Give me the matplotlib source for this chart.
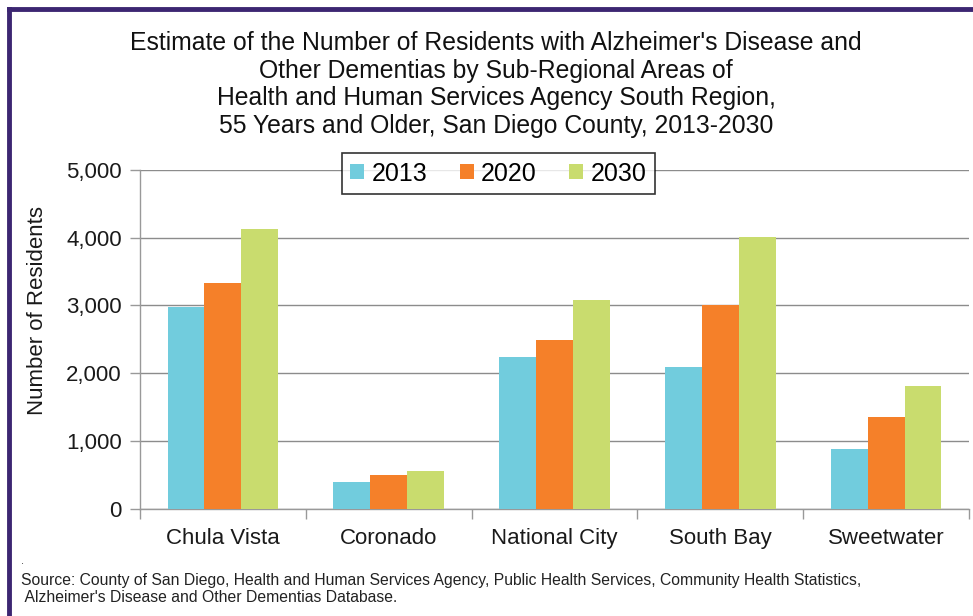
import matplotlib
matplotlib.use("Agg")
import matplotlib.pyplot as plt
from matplotlib.lines import Line2D
import numpy as np

categories = ["Chula Vista", "Coronado", "National City", "South Bay", "Sweetwater"]
years = ["2013", "2020", "2030"]
v2013 = [2970, 400, 2240, 2090, 880]
v2020 = [3330, 500, 2485, 3010, 1360]
v2030 = [4125, 550, 3075, 4005, 1805]
yticks = [0, 1000, 2000, 3000, 4000, 5000]
ytick_labels = ["0", "1,000", "2,000", "3,000", "4,000", "5,000"]
colors = ["#71CCDD", "#F58029", "#C9DC6E"]

title = ("Estimate of the Number of Residents with Alzheimer's Disease and\n"
         "Other Dementias by Sub-Regional Areas of\n"
         "Health and Human Services Agency South Region,\n"
         "55 Years and Older, San Diego County, 2013-2030")
source = ("Source: County of San Diego, Health and Human Services Agency, Public Health Services, Community Health Statistics,\n"
          " Alzheimer's Disease and Other Dementias Database.")

plt.rcParams['font.family'] = ['Liberation Sans', 'DejaVu Sans']

fig = plt.figure(figsize=(9.73, 6.16), dpi=100)
ax = fig.add_axes([0.1439, 0.1742, 0.8520, 0.5500])

x = np.arange(len(categories))
w = 0.2225
series = [v2013, v2020, v2030]
for i, (vals, c, lab) in enumerate(zip(series, colors, years)):
    ax.bar(x + (i - 1) * w, vals, width=w, color=c, label=lab, zorder=3)

ax.set_xlim(-0.5, len(categories) - 0.5)
ax.set_ylim(0, 5000)
ax.set_yticks(yticks)
ax.set_yticklabels(ytick_labels, fontsize=16, color="#1a1a1a")
ax.set_xticks(x)
ax.set_xticklabels(categories, fontsize=16, color="#1a1a1a")
ax.tick_params(axis='x', length=0, pad=14)
ax.set_xticks(np.arange(-0.5, len(categories)), minor=True)
ax.tick_params(axis='x', which='minor', length=7, color="#999999", width=1)
ax.tick_params(axis='y', length=7, color="#999999", width=1, pad=6)
ax.grid(axis='y', color="#8c8c8c", linewidth=1, zorder=0)
ax.set_axisbelow(True)
for s in ['top', 'right']:
    ax.spines[s].set_visible(False)
for s in ['left', 'bottom']:
    ax.spines[s].set_color("#999999")
    ax.spines[s].set_linewidth(1)

ax.set_ylabel("Number of Residents", fontsize=16, color="#1a1a1a")
ax.yaxis.set_label_coords(-0.111, 0.586)

leg = ax.legend(ncol=3, loc='upper center', bbox_to_anchor=(0.4324, 1.05),
                borderaxespad=0, fontsize=18, frameon=True, fancybox=False,
                handlelength=0.55, handleheight=0.55, handletextpad=0.3,
                columnspacing=1.3, borderpad=0.35)
leg.get_frame().set_edgecolor("black")
leg.get_frame().set_linewidth(1.2)
leg.set_zorder(5)

fig.text(0.5098, 0.949, title, ha='center', va='top', fontsize=17.8,
         linespacing=1.18, color="#111111")
fig.text(0.022, 0.085, ".", fontsize=8, color="#333333")
fig.text(0.022, 0.018, source, ha='left', va='bottom', fontsize=11.3,
         linespacing=1.15, color="#222222")

border = "#3C2672"
fig.add_artist(Line2D([0.0095, 1.01], [0.9855, 0.9855], transform=fig.transFigure,
                      color=border, linewidth=3.5))
fig.add_artist(Line2D([0.0095, 0.0095], [-0.01, 0.9855], transform=fig.transFigure,
                      color=border, linewidth=3.5))

fig.savefig("out.png", dpi=100)
